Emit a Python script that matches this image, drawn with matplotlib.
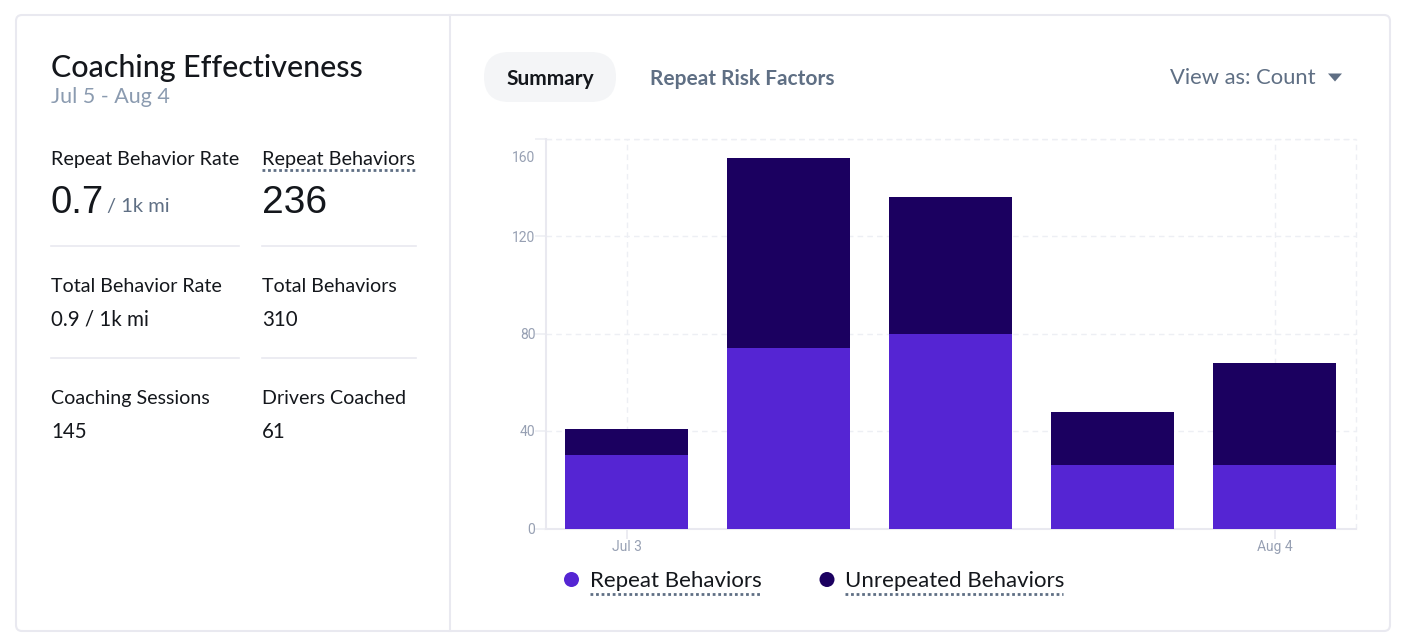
import matplotlib
matplotlib.use("Agg")
import matplotlib.pyplot as plt
from matplotlib.patches import FancyBboxPatch, Ellipse, Polygon

plt.rcParams["font.family"] = ["Lato", "DejaVu Sans"]

# chart values
weeks = [0, 1, 2, 3, 4]
repeat_behaviors = [30, 74, 80, 26, 26]
unrepeated_behaviors = [11, 78, 56, 22, 42]
y_ticks = [0, 40, 80, 120, 160]
x_tick_pos = [0, 4]
x_tick_labels = ["Jul 3", "Aug 4"]

# side panel text
title = "Coaching Effectiveness"
date_range = "Jul 5 - Aug 4"
metric_labels = ["Total Behavior Rate", "Total Behaviors", "Coaching Sessions", "Drivers Coached"]
metric_values = ["0.9 / 1k mi", "310", "145", "61"]

PURPLE = "#5525d3"
NAVY = "#1b0060"
INK = "#14171c"
SLATE = "#5f6f84"
MUTED = "#8b9bb0"
TICK = "#97a0b3"
RULE = "#e9e9f0"
GRID = "#edeff4"
W, H = 1408, 644


def main():
    fig = plt.figure(figsize=(W / 100, H / 100), dpi=100, facecolor="white")

    # page furniture is drawn in pixel coordinates
    bg = fig.add_axes([0, 0, 1, 1], zorder=0)
    bg.set_xlim(0, W)
    bg.set_ylim(H, 0)
    bg.axis("off")

    bg.add_patch(FancyBboxPatch((16, 15), 1374, 616, boxstyle="round,pad=0,rounding_size=6",
                                fc="white", ec=RULE, lw=1.5))
    bg.plot([450, 450], [15, 631], color=RULE, lw=1.5)

    bg.text(51, 67.5, title, fontsize=21.9, color=INK, va="center", fontweight="medium")
    bg.text(51, 97, date_range, fontsize=15.5, color=MUTED, va="center")

    bg.text(51, 159, "Repeat Behavior Rate", fontsize=14.2, color=INK, va="center")
    bg.text(262, 159, "Repeat Behaviors", fontsize=14.3, color=INK, va="center")
    bg.plot([262, 415], [169.5, 169.5], color=SLATE, lw=2, dashes=(1, 1))

    bg.text(51, 202.5, "0.7", fontsize=27.5, color=INK, va="center", family="Liberation Sans")
    bg.text(107, 206, "/ 1k mi", fontsize=14.5, color=SLATE, va="center")
    bg.text(262, 202.5, "236", fontsize=28, color=INK, va="center", family="Liberation Sans")

    for y in (246, 358):
        bg.plot([51, 239], [y, y], color=RULE, lw=1.2)
        bg.plot([262, 416], [y, y], color=RULE, lw=1.2)

    cells = [(51, 286), (262, 286), (51, 398), (262, 398)]
    for (x, y), lab, val in zip(cells, metric_labels, metric_values):
        bg.text(x, y, lab, fontsize=14.1, color=INK, va="center")
        bg.text(x, y + 33.5, val, fontsize=14.8, color=INK, va="center")

    # tabs
    bg.add_patch(FancyBboxPatch((484, 52), 132, 50, boxstyle="round,pad=0,rounding_size=25",
                                fc="#f4f5f7", ec="none"))
    bg.text(550, 79, "Summary", fontsize=15, color=INK, va="center", ha="center", fontweight="bold")
    bg.text(650, 79, "Repeat Risk Factors", fontsize=15, color=SLATE, va="center", fontweight="bold")
    bg.text(1170, 78, "View as: Count", fontsize=15.8, color=SLATE, va="center")
    bg.add_patch(Polygon([(1328, 73.5), (1342, 73.5), (1335, 81.5)], fc=SLATE, ec="none"))

    # legend
    bg.add_patch(Ellipse((571.5, 579.5), 15, 15, fc=PURPLE, ec="none"))
    bg.add_patch(Ellipse((827, 579.5), 15, 15, fc=NAVY, ec="none"))
    bg.text(590, 581, "Repeat Behaviors", fontsize=16, color=INK, va="center")
    bg.text(845, 581, "Unrepeated Behaviors", fontsize=16, color=INK, va="center")
    bg.plot([590, 762], [593.5, 593.5], color=SLATE, lw=2, dashes=(1, 1))
    bg.plot([845, 1063], [593.5, 593.5], color=SLATE, lw=2, dashes=(1, 1))

    # the chart itself
    ax = fig.add_axes([545.5 / W, (H - 528.5) / H, 810 / W, 390 / H], zorder=1)
    ax.patch.set_alpha(0)
    ax.bar(weeks, repeat_behaviors, width=0.765, color=PURPLE, zorder=3)
    ax.bar(weeks, unrepeated_behaviors, width=0.765, bottom=repeat_behaviors, color=NAVY, zorder=3)
    ax.set_xlim(-0.5, 4.5)
    ax.set_ylim(0, 160)

    ax.set_yticks(y_ticks)
    ax.set_xticks(x_tick_pos)
    ax.set_xticklabels(x_tick_labels, fontsize=10, color=TICK, family="Roboto")
    ax.tick_params(axis="x", length=7, width=1.2, color=RULE, pad=1)
    ax.tick_params(axis="y", length=8, width=1.2, color=GRID, labelleft=False)
    ax.grid(True, color=GRID, lw=1, dashes=(4, 3), zorder=0)

    for name in ("top", "right"):
        ax.spines[name].set_visible(False)
    for name in ("left", "bottom"):
        ax.spines[name].set_color(RULE)
        ax.spines[name].set_linewidth(1.5)

    # top grid edge and right edge are dashed too
    ax.axhline(160, color=GRID, lw=1, dashes=(4, 3), clip_on=False)
    ax.axvline(4.5, color=GRID, lw=1, dashes=(4, 3), clip_on=False)

    # y labels, the top one sits lower so it stays inside the chart
    for v in y_ticks:
        shift = -18 if v == 160 else 0
        ax.annotate(str(v), xy=(0, v), xycoords=("axes fraction", "data"),
                    xytext=(-10 * 0.72, (shift - 1.5) * 0.72), textcoords="offset points",
                    ha="right", va="center", fontsize=10, color=TICK, family="Roboto")

    fig.savefig("out.png", dpi=100)


if __name__ == "__main__":
    main()
